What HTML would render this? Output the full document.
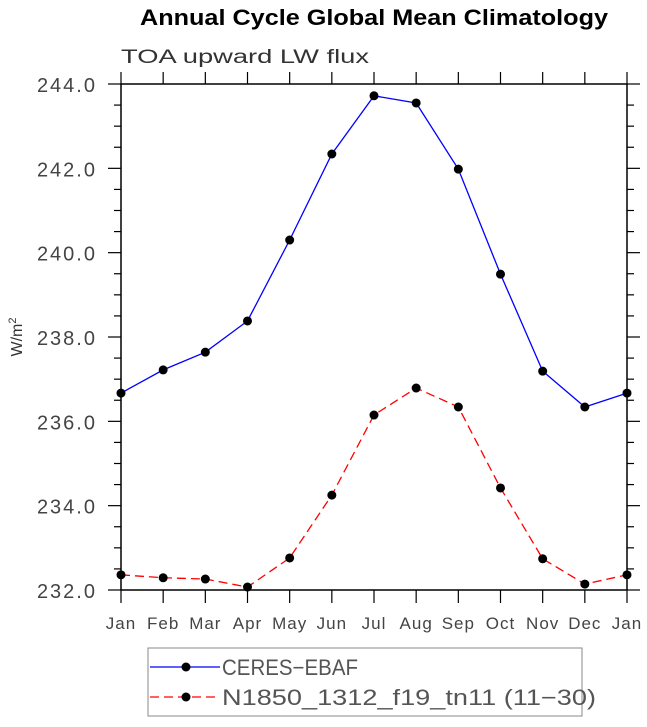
<!DOCTYPE html>
<html><head><meta charset="utf-8"><style>
body{margin:0;background:#fff;}
svg text{font-family:"Liberation Sans",sans-serif;}
</style></head><body>
<svg id="chart" width="647" height="722" xmlns="http://www.w3.org/2000/svg">
<text x="140" y="25" font-size="22" font-weight="bold" textLength="468" lengthAdjust="spacingAndGlyphs">Annual Cycle Global Mean Climatology</text>
<text x="121" y="63" font-size="19" fill="#333" textLength="248" lengthAdjust="spacingAndGlyphs">TOA upward LW flux</text>
<text transform="translate(22,337) rotate(-90)" text-anchor="middle" font-size="16" fill="#333">W/m<tspan dy="-6" font-size="11">2</tspan></text>
<g id="axes"></g>
<g id="series"></g>
<g>
<rect x="148" y="648" width="434" height="68" fill="none" stroke="#888" stroke-width="1"/>
<line x1="150" y1="667" x2="220" y2="667" stroke="#0000ff" stroke-width="1.3"/>
<circle cx="186" cy="667" r="4.5" fill="#000"/>
<text x="222" y="675" font-size="22" fill="#555" textLength="136" lengthAdjust="spacingAndGlyphs">CERES−EBAF</text>
<line x1="150" y1="697" x2="220" y2="697" stroke="#ff0000" stroke-width="1.3" stroke-dasharray="9,5"/>
<circle cx="186" cy="697" r="4.5" fill="#000"/>
<text x="222" y="705" font-size="22" fill="#555" textLength="374" lengthAdjust="spacingAndGlyphs">N1850_1312_f19_tn11 (11−30)</text>
</g>
</svg>
<script>
const months=["Jan","Feb","Mar","Apr","May","Jun","Jul","Aug","Sep","Oct","Nov","Dec","Jan"];
const ceres=[236.67,237.22,237.64,238.38,240.30,242.34,243.72,243.55,241.98,239.49,237.19,236.34,236.67];
const model=[232.36,232.29,232.26,232.07,232.76,234.25,236.15,236.79,236.34,234.42,232.74,232.14,232.36];
const yTicks=[232,234,236,238,240,242,244];
const NS="http://www.w3.org/2000/svg";
const L=121,R=627,T=84,B=590,ymin=232,ymax=244;
const xs=i=>L+(R-L)*i/(months.length-1);
const ys=v=>B-(B-T)*(v-ymin)/(ymax-ymin);
function mk(tag,attrs,parent){const e=document.createElementNS(NS,tag);for(const k in attrs)e.setAttribute(k,attrs[k]);parent.appendChild(e);return e;}
const ax=document.getElementById('axes');
const frame=mk('rect',{x:L,y:T,width:R-L,height:B-T,fill:'none',stroke:'#000','stroke-width':1.5},ax);


months.forEach((m,i)=>{
  const x=xs(i);
  mk('line',{x1:x,y1:B,x2:x,y2:B+13,stroke:'#000','stroke-width':1.2},ax);
  mk('line',{x1:x,y1:T,x2:x,y2:T-12,stroke:'#000','stroke-width':1.2},ax);
  const t=mk('text',{x:x,y:B+39,'text-anchor':'middle','font-size':17,fill:'#444','letter-spacing':1},ax);
  t.textContent=m;
  
  
});
for(let v=ymin;v<=ymax+1e-9;v+=0.5){
  const y=ys(v);const major=Math.abs(v%2)<1e-6;const len=major?13:7;
  mk('line',{x1:L-len,y1:y,x2:L,y2:y,stroke:'#000','stroke-width':1.2},ax);
  mk('line',{x1:R,y1:y,x2:R+len,y2:y,stroke:'#000','stroke-width':1.2},ax);
}
yTicks.forEach(v=>{
  const t=mk('text',{x:L-24,y:ys(v)+8,'text-anchor':'end','font-size':20,fill:'#444','letter-spacing':2},ax);
  t.textContent=v.toFixed(1);
  
  
});
const sg=document.getElementById('series');
function series(vals,color,dash,name){
  const pts=vals.map((v,i)=>xs(i)+','+ys(v)).join(' ');
  const pl=mk('polyline',{points:pts,fill:'none',stroke:color,'stroke-width':1.3},sg);
  if(dash)pl.setAttribute('stroke-dasharray',dash);
  
  
  vals.forEach((v,i)=>{
    const c=mk('circle',{cx:xs(i),cy:ys(v),r:4.5,fill:'#000'},sg);
    
    
  });
}
series(ceres,'#0000ff',null,'ceres');
series(model,'#ff0000','9,5','model');
</script>
</body></html>
